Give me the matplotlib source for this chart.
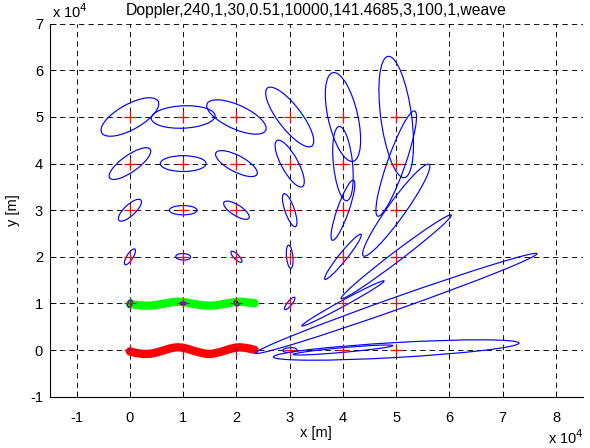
import matplotlib
matplotlib.use('Agg')
import matplotlib.pyplot as plt
from matplotlib.patches import Ellipse

plt.rcParams['font.family'] = ['Liberation Sans', 'DejaVu Sans']
plt.rcParams['axes.unicode_minus'] = False

title = "Doppler,240,1,30,0.51,10000,141.4685,3,100,1,weave"
xlabel = "x [m]"
ylabel = "y [m]"
xticks = [-1, 0, 1, 2, 3, 4, 5, 6, 7, 8]
yticks = [-1, 0, 1, 2, 3, 4, 5, 6, 7]

# target grid (units of 1e4 m)
grid_x = [0, 1, 2, 3, 4, 5]
grid_y = [0, 1, 2, 3, 4, 5]

# error ellipses (units of 1e4 m): centre, semi-major, semi-minor, angle (deg)
ell_cx = [0, 0, 0, 0, 0, 0,
          1, 1, 1, 1, 1, 1,
          2, 2, 2, 2, 2, 2,
          3, 3, 3, 3, 3, 3,
          4, 4, 4, 4, 4, 4,
          5, 5, 5, 5, 5, 5]
ell_cy = [0, 1, 2, 3, 4, 5] * 6
ell_a = [0.03, 0.08, 0.19, 0.30, 0.49, 0.63,
         0.025, 0.05, 0.14, 0.26, 0.43, 0.60,
         0.025, 0.06, 0.15, 0.29, 0.45, 0.62,
         0.13, 0.16, 0.25, 0.37, 0.55, 0.75,
         0.94, 0.91, 0.59, 0.675, 0.80, 0.97,
         2.31, 2.85, 1.37, 1.16, 1.18, 1.31]
ell_b = [0.02, 0.04, 0.06, 0.11, 0.17, 0.26,
         0.02, 0.03, 0.07, 0.10, 0.17, 0.24,
         0.02, 0.035, 0.05, 0.11, 0.17, 0.25,
         0.05, 0.045, 0.06, 0.09, 0.16, 0.23,
         0.05, 0.06, 0.08, 0.11, 0.18, 0.28,
         0.16, 0.13, 0.10, 0.17, 0.17, 0.29]
ell_ang = [80, 75, 62, 48, 40, 34,
           0, 0, -3, 0, 0, 3,
           0, -50, -50, -37, -32, -28.5,
           5, 55, 95, 106.6, 115, 123,
           5.8, 32, 55, 73, 95, 101,
           3.7, 22, 41, 58, 73, 96.6]

# weaving observer trajectories (units of 1e4 m)
red_x = [0.00, 0.08, 0.16, 0.24, 0.32, 0.40, 0.47, 0.54, 0.61, 0.69, 0.76, 0.83,
         0.90, 0.98, 1.05, 1.12, 1.19, 1.27, 1.34, 1.41, 1.48, 1.56, 1.63, 1.70,
         1.77, 1.85, 1.92, 1.99, 2.06, 2.13, 2.20, 2.27, 2.34]
red_y = [-0.03, -0.055, -0.072, -0.082, -0.085, -0.078, -0.060, -0.040, -0.015, 0.012, 0.035, 0.052,
         0.058, 0.052, 0.035, 0.012, -0.015, -0.040, -0.060, -0.078, -0.085, -0.078, -0.060, -0.040,
         -0.015, 0.012, 0.035, 0.052, 0.058, 0.052, 0.040, 0.022, 0.005]
green_x = [0.00, 0.08, 0.16, 0.24, 0.32, 0.40, 0.47, 0.54, 0.61, 0.69, 0.76, 0.83,
           0.90, 0.98, 1.05, 1.12, 1.19, 1.27, 1.34, 1.41, 1.48, 1.56, 1.63, 1.70,
           1.77, 1.85, 1.92, 1.99, 2.06, 2.13, 2.20, 2.27, 2.34]
green_y = [0.985, 0.975, 0.962, 0.955, 0.952, 0.955, 0.962, 0.975, 0.990, 1.005, 1.020, 1.032,
           1.036, 1.032, 1.020, 1.005, 0.990, 0.975, 0.962, 0.955, 0.952, 0.955, 0.962, 0.975,
           0.990, 1.005, 1.020, 1.032, 1.036, 1.032, 1.022, 1.012, 1.005]

fig = plt.figure(figsize=(5.9, 4.48), dpi=100)
ax = fig.add_axes([0.0848, 0.1147, 0.9027, 0.8322])

ax.plot(red_x, red_y, color='#ff0000', lw=6.0, solid_capstyle='round', zorder=2)
ax.plot(green_x, green_y, color='#00ff00', lw=6.0, solid_capstyle='round', zorder=2)

for cx, cy, a, b, ang in zip(ell_cx, ell_cy, ell_a, ell_b, ell_ang):
    ax.add_patch(Ellipse((cx, cy), 2 * a, 2 * b, angle=ang, fill=False,
                         edgecolor='#0000ff', lw=0.85, zorder=3))

gx = [x for x in grid_x for _ in grid_y]
gy = [y for _ in grid_x for y in grid_y]
ax.plot(gx, gy, linestyle='none', marker='+', color='#ff0000', markersize=9,
        markeredgewidth=0.9, zorder=4)

ax.set_xlim(-1.5, 8.5)
ax.set_ylim(-1, 7)
ax.set_xticks(xticks)
ax.set_yticks(yticks)
ax.set_xticklabels([str(t) for t in xticks])
ax.set_yticklabels([str(t) for t in yticks])
ax.grid(True, color='k', linestyle=(0, (6, 4.5)), linewidth=0.65)
ax.set_axisbelow(True)
for s in ['top', 'right']:
    ax.spines[s].set_visible(False)
for s in ['left', 'bottom']:
    ax.spines[s].set_linewidth(0.8)
ax.tick_params(direction='in', length=4, width=0.6, labelsize=10.5)
ax.tick_params(axis='x', pad=10)
ax.tick_params(axis='y', pad=5)

ax.set_title(title, fontsize=11.3, pad=6)
ax.set_xlabel(xlabel, fontsize=10.5, labelpad=1)
ax.set_ylabel(ylabel, fontsize=10.5, labelpad=7)

fig.text(52 / 590, 1 - 18 / 448, r'x 10$^{4}$', fontsize=10.5, ha='left', va='baseline')
fig.text(548 / 590, 1 - 444 / 448, r'x 10$^{4}$', fontsize=10.5, ha='left', va='baseline')

fig.savefig('out.png', dpi=100)
